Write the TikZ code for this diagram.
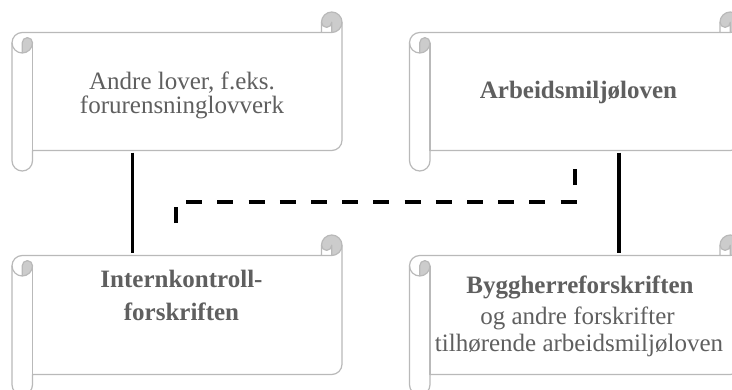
\documentclass[tikz,border=0pt]{standalone}
\usepackage{fontspec}
\setmainfont{Liberation Serif}
\definecolor{rim}{RGB}{185,185,185}
\definecolor{curlfill}{RGB}{204,204,204}
\definecolor{ink}{RGB}{95,95,95}
\tikzset{
  rimline/.style={draw=rim, line width=1.2pt, line join=round},
  body/.style={inner sep=0pt, draw=none},
  txt/.style={font=\fontsize{25}{30}\selectfont, text=ink, inner sep=0pt, anchor=base},
  txtb/.style={txt, font=\fontsize{25}{30}\selectfont\bfseries},
  link/.style={line width=3.8pt, black, shorten <=2pt, shorten >=2pt},
  dashlink/.style={line width=3.8pt, black, dash pattern=on 16pt off 15.2pt},
  % horizontal scroll: width/height, roll size 20.5
  pics/scroll/.style args={#1/#2}{code={
    % paper
    \fill[white] (0,30.75) arc[start angle=180,delta angle=90,radius=10.25]
      -- (#1-20.5,20.5) -- (#1-20.5,10.25)
      arc[start angle=180,delta angle=180,radius=10.25]
      -- (#1,#2-30.75) arc[start angle=0,delta angle=90,radius=10.25]
      -- (20.5,#2-20.5) -- (20.5,#2-10.25)
      arc[start angle=0,delta angle=180,radius=10.25] -- cycle;
    % shaded curl, top right
    \fill[curlfill] (#1-10.25,10.25) circle[radius=10.25];
    \fill[white] (#1-20.5,20.5) -- (#1-20.5,10.25)
      arc[start angle=180,delta angle=-180,radius=5.125] -- (#1-10.25,20.5) -- cycle;
    % shaded curl, left roll
    \fill[curlfill] (10.25,41) arc[start angle=90,delta angle=-90,radius=10.25]
      arc[start angle=0,delta angle=-180,radius=5.125] -- cycle;
    % outline
    \draw[rimline] (0,30.75) arc[start angle=180,delta angle=90,radius=10.25]
      -- (#1-20.5,20.5) -- (#1-20.5,10.25)
      arc[start angle=180,delta angle=180,radius=10.25]
      -- (#1,#2-30.75) arc[start angle=0,delta angle=90,radius=10.25]
      -- (20.5,#2-20.5) -- (20.5,#2-10.25)
      arc[start angle=0,delta angle=180,radius=10.25] -- cycle;
    \draw[rimline] (#1-20.5,20.5) -- (#1-10.25,20.5)
      arc[start angle=90,delta angle=-90,radius=10.25];
    \draw[rimline] (#1-10.25,20.5) -- (#1-10.25,10.25)
      arc[start angle=0,delta angle=180,radius=5.125];
    \draw[rimline] (10.25,41) -- (10.25,30.75)
      arc[start angle=180,delta angle=180,radius=5.125]
      arc[start angle=0,delta angle=180,radius=10.25];
    \draw[rimline] (20.5,30.75) -- (20.5,#2-20.5);
  }},
}
\begin{document}
\begin{tikzpicture}[x=1pt, y=1pt, yscale=-1]
  \useasboundingbox (0,0) rectangle (732,389);
  \clip (0,0) rectangle (732,389);
  \fill[white] (0,0) rectangle (732,389);

  % the four scrolls
  \pic[transform shape] at (12,12)     {scroll=330/159};
  \pic[transform shape] at (409.5,12)  {scroll=331/159};
  \pic[transform shape] at (12,235)    {scroll=330/160};
  \pic[transform shape] at (409.5,235) {scroll=331/160};

  % paper areas of the scrolls
  \node[body, minimum width=309.5pt, minimum height=118pt] (tl) at (187.25,91.5) {};
  \node[body, minimum width=310.5pt, minimum height=118pt] (tr) at (585.25,91.5) {};
  \node[body, minimum width=309.5pt, minimum height=119pt] (bl) at (187.25,315) {};
  \node[body, minimum width=310.5pt, minimum height=119pt] (br) at (585.25,315) {};

  % texts
  \node[txt]  (tlA) at (182,89)    {Andre lover, f.eks.};
  \node[txt]  (tlB) at (182,113)   {forurensninglovverk};
  \node[txtb] (trA) at (578.5,98.5){Arbeidsmiljøloven};
  \node[txtb] (blA) at (181.5,287) {Internkontroll-};
  \node[txtb] (blB) at (181.5,320) {forskriften};
  \node[txtb] (brA) at (580,293)   {Byggherreforskriften};
  \node[txt]  (brB) at (577.5,324) {og andre forskrifter};
  \node[txt]  (brC) at (579,351)   {tilhørende arbeidsmiljøloven};

  % connectors
  \coordinate (lx) at (132.5,0);
  \coordinate (rx) at (619,0);
  \draw[link] (tl.south -| lx) -- (bl.north -| lx);
  \draw[link] (tr.south -| rx) -- (br.north -| rx);

  \coordinate (dA) at (575,168);
  \coordinate (dB) at (176,223);
  \coordinate (dM) at (0,202);
  \draw[dashlink] (dB) |- (dM -| dA) -- (dA);
\end{tikzpicture}
\end{document}
